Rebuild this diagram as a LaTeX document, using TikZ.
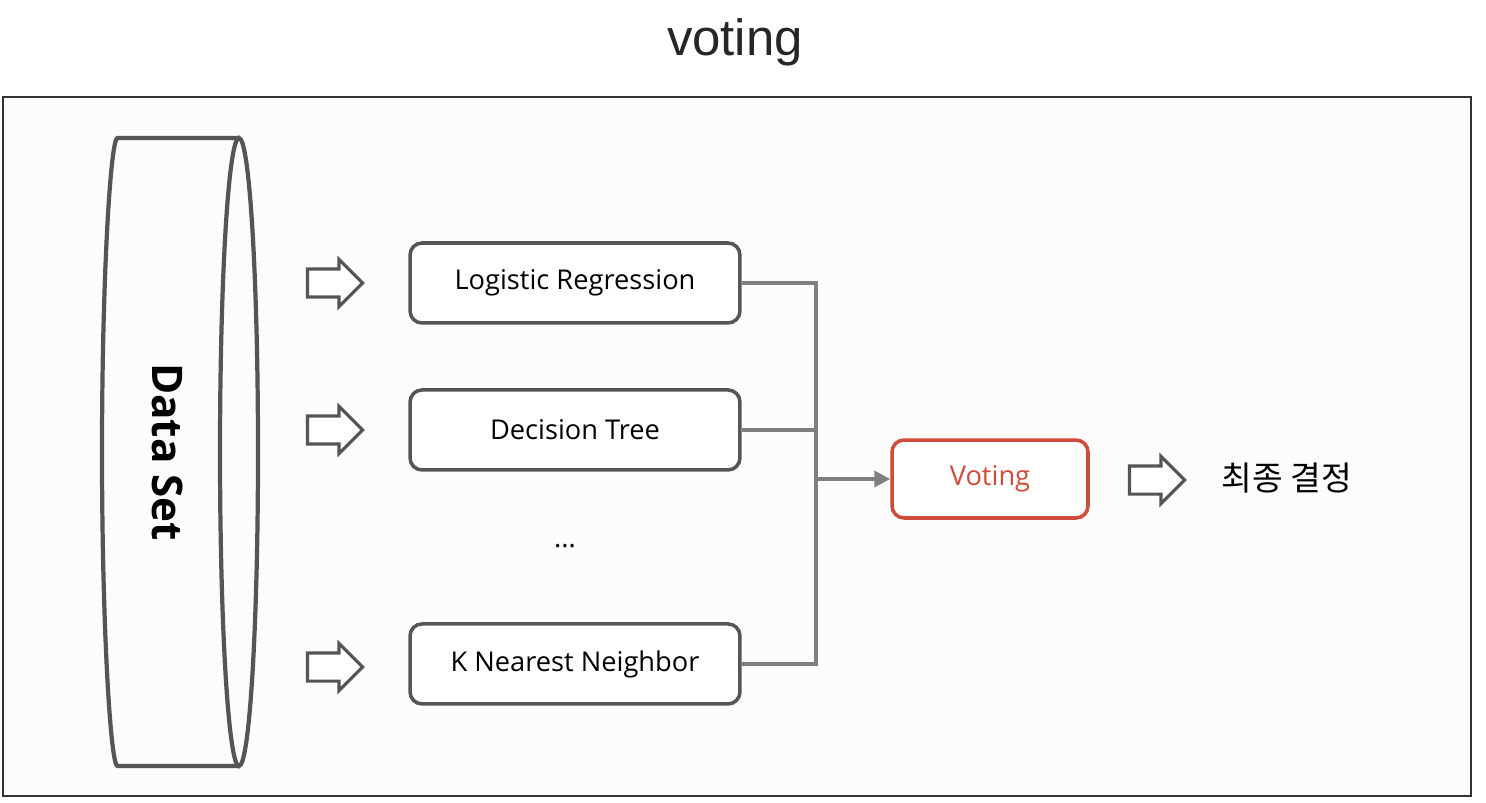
\documentclass[tikz,border=0pt]{standalone}
\usepackage{fontspec}
\setmainfont{Open Sans}
\newfontfamily\titlefont{Liberation Sans}
\newfontfamily\korfont{Noto Sans CJK KR}
\usepackage{xcolor}
\usetikzlibrary{positioning, arrows.meta, shapes.arrows}

\definecolor{boxgray}{HTML}{555555}
\definecolor{linegray}{HTML}{7F7F7F}
\definecolor{votered}{HTML}{CF4B3A}

\begin{document}
\begin{tikzpicture}[x=0.02cm, y=0.02cm,
    model/.style={rectangle, rounded corners=0.24cm, draw=boxgray, line width=2pt, fill=white,
        minimum width=6.6cm, minimum height=1.6cm, font=\fontsize{15.5}{18}\selectfont},
    conn/.style={draw=linegray, line width=2.2pt},
    blockarrow/.style={single arrow, draw=boxgray, line width=1.8pt, fill=white, inner xsep=0pt,
        inner ysep=0.25cm, minimum height=1.1cm, single arrow head extend=0.19cm}]
    \useasboundingbox (0,0) rectangle (1486,802);
    \node (title) at (735,760) {\titlefont\fontsize{29}{34}\selectfont\color{black!85}voting};
    \draw[black!80, line width=0.8pt, fill=black!1] (3,705) rectangle (1471,6);

    % data set cylinder
    \draw[boxgray, line width=2.4pt, rounded corners=2pt] (239,664) -- (121,664)
        arc[start angle=90, end angle=270, x radius=19, y radius=314] -- (239,36);
    \draw[boxgray, line width=2.4pt] (239,350) ellipse [x radius=19, y radius=314];
    \node (dataset) [rotate=-90, font=\bfseries\fontsize{24}{28}\selectfont] at (168,350) {Data Set};

    \node (logreg) [model] at (575,519) {Logistic Regression};
    \node (dtree) [model, below of=logreg, node distance=2.94cm] {Decision Tree};
    \node (dots) [font=\fontsize{15.5}{18}\selectfont] at (565,256) {...};
    \node (knn) [model, below of=dtree, node distance=4.68cm] {K Nearest Neighbor};

    \node (arr1) [blockarrow] at (328,519) {};
    \node (arr2) [blockarrow] at (328,372) {};
    \node (arr3) [blockarrow] at (328,135) {};

    \node (voting) [model, draw=votered, minimum width=3.92cm, minimum height=1.56cm, text=votered] at (990,323) {Voting};
    \node (arr4) [blockarrow] at (1150,322) {};
    \node (final) at (1287,324) {\korfont\fontsize{19}{22}\selectfont 최종 결정};

    \coordinate (bus) at (816,323);
    \draw[conn] (logreg.east) -| (bus) |- (knn.east);
    \draw[conn] (dtree.east) -- (dtree.east -| bus);
    \draw[conn, -{Triangle[length=0.32cm, width=0.32cm]}] (bus) -- (voting.west);
\end{tikzpicture}
\end{document}
